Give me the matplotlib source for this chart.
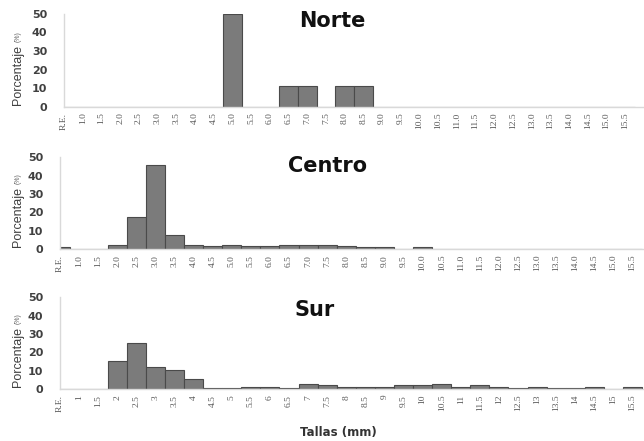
import matplotlib
matplotlib.use("Agg")
import matplotlib.pyplot as plt
import numpy as np

cats_std = ["R.E."] + [f"{v:.1f}" for v in np.arange(1.0, 15.51, 0.5)]
cats_sur = ["R.E.", "1", "1.5", "2", "2.5", "3", "3.5", "4", "4.5", "5", "5.5",
            "6", "6.5", "7", "7.5", "8", "8.5", "9", "9.5", "10", "10.5", "11",
            "11.5", "12", "12.5", "13", "13.5", "14", "14.5", "15", "15.5"]

norte = [0, 0, 0, 0, 0, 0, 0, 0, 0, 50, 0, 0, 11.1, 11.1, 0, 11.1, 11.1,
         0, 0, 0, 0, 0, 0, 0, 0, 0, 0, 0, 0, 0, 0]
centro = [1.0, 0, 0, 2.5, 17.5, 45.8, 7.6, 2.6, 2.0, 2.6, 1.7, 1.7, 2.6, 2.6,
          2.1, 1.9, 1.1, 1.1, 0.4, 1.0, 0.4, 0.4, 0, 0, 0.4, 0.4, 0.4, 0, 0,
          0.4, 0]
sur = [0, 0, 0, 15.6, 25.2, 12.2, 10.6, 5.8, 0.9, 0.9, 1.4, 1.4, 0.9, 3.0,
       2.2, 1.0, 1.3, 1.3, 2.1, 2.6, 3.0, 1.0, 2.2, 1.5, 0.5, 1.2, 0.7, 0.7,
       1.2, 0, 1.2]
titles = ["Norte", "Centro", "Sur"]

W, H = 644, 441
fig = plt.figure(figsize=(W / 100, H / 100), dpi=100)

def frac_box(left_px, top_px, right_px, bottom_px):
    return [left_px / W, 1 - bottom_px / H, (right_px - left_px) / W,
            (bottom_px - top_px) / H]

panels = [
    (norte, cats_std, frac_box(64, 13.5, 644, 107), 31.0, (332, 21)),
    (centro, cats_std, frac_box(60, 157.3, 644, 249.3), 30.6, (327.5, 166)),
    (sur, cats_sur, frac_box(60, 297.3, 644, 389.3), 30.6, (314.5, 310)),
]

for (vals, cats, box, xmax, tpos), title in zip(panels, titles):
    ax = fig.add_axes(box)
    x = np.arange(len(cats))
    ax.bar(x, vals, width=1.0, color="#7b7b7b", edgecolor="#4a4a4a",
           linewidth=0.8)
    ax.set_xlim(0, xmax)
    ax.set_ylim(0, 50)
    ax.set_yticks([0, 10, 20, 30, 40, 50])
    ax.set_yticklabels(["0", "10", "20", "30", "40", "50"],
                       fontsize=8, fontweight="bold", color="#404040")
    ax.set_xticks(x)
    ax.set_xticklabels(cats, rotation=90, fontsize=6.8,
                       family="Liberation Serif", color="#595959")
    ax.tick_params(axis="both", length=0)
    ax.tick_params(axis="y", pad=12)
    ax.tick_params(axis="x", pad=4)
    for s in ["top", "right"]:
        ax.spines[s].set_visible(False)
    for s in ["left", "bottom"]:
        ax.spines[s].set_color("#d9d9d9")
        ax.spines[s].set_linewidth(1.0)
    fig.text(tpos[0] / W, 1 - tpos[1] / H, title, ha="center", va="center",
             fontsize=15, fontweight="bold", color="#111111")
    # y label
    bottom_px = (1 - box[1]) * H
    fig.text(18 / W, 1 - (bottom_px - 2) / H, "Porcentaje", rotation=90,
             ha="center", va="bottom", fontsize=9, color="#404040",
             family="Liberation Sans")
    fig.text(18.5 / W, 1 - (bottom_px - 65) / H, "(%)", rotation=90,
             ha="center", va="bottom", fontsize=5, color="#606060",
             family="Liberation Sans")

fig.text(338 / W, 1 - 432.5 / H, "Tallas (mm)", ha="center", va="center",
         fontsize=8.5, fontweight="bold", color="#333333")

fig.savefig("out.png", dpi=100)
